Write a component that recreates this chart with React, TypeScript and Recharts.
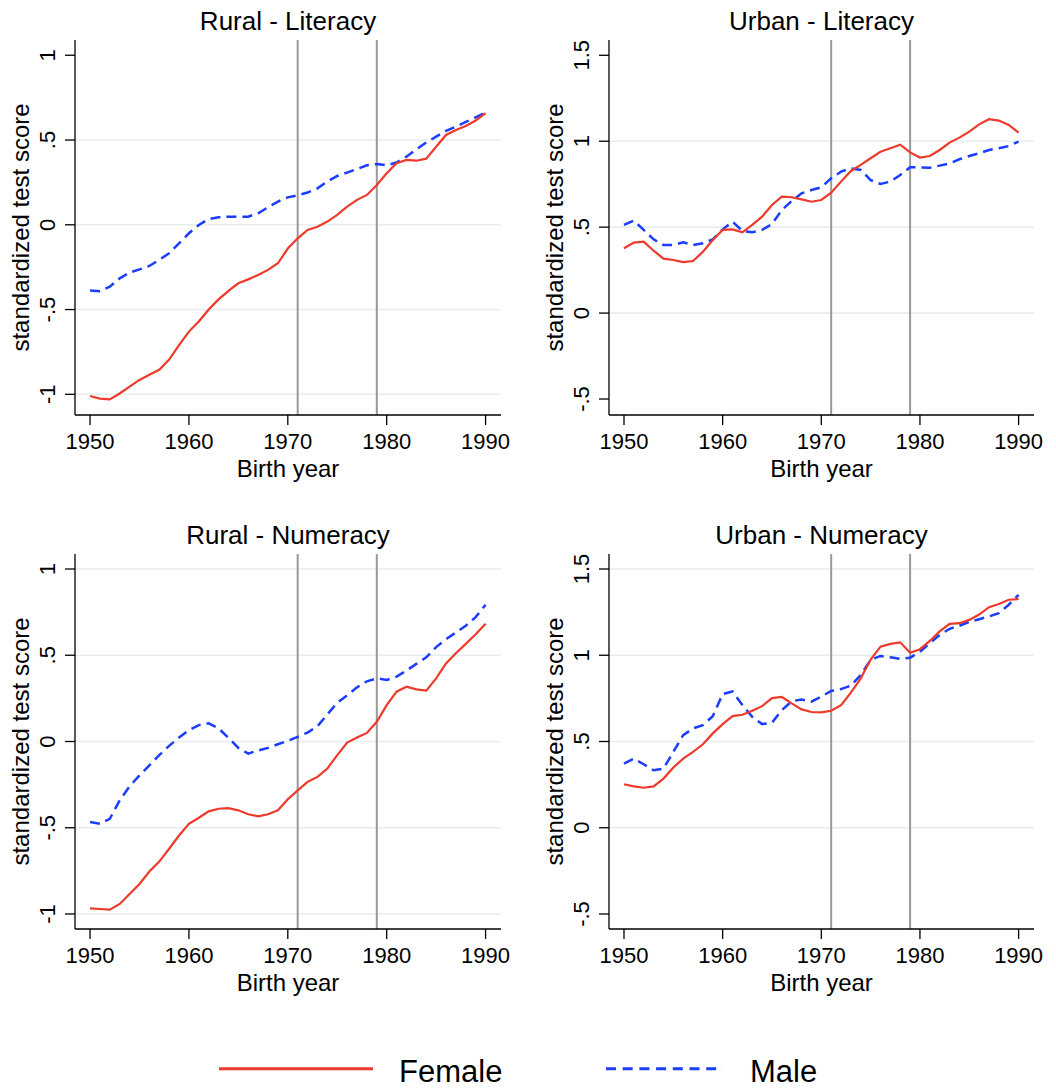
import React from "react";
import { LineChart, Line, XAxis, YAxis, ReferenceLine } from "recharts";

const FONT = '"Liberation Sans", Arial, Helvetica, sans-serif';
const RED = "#ee3a2a";
const BLUE = "#1a3dff";
const GRID = "#e6eef0";
const VLINE = "#999999";

const years = [
  1950, 1951, 1952, 1953, 1954, 1955, 1956, 1957, 1958, 1959,
  1960, 1961, 1962, 1963, 1964, 1965, 1966, 1967, 1968, 1969,
  1970, 1971, 1972, 1973, 1974, 1975, 1976, 1977, 1978, 1979,
  1980, 1981, 1982, 1983, 1984, 1985, 1986, 1987, 1988, 1989, 1990,
];

const ruralLitFemale = [
  -1.01, -1.025, -1.03, -0.995, -0.955, -0.915, -0.885, -0.855, -0.795, -0.71,
  -0.63, -0.57, -0.5, -0.44, -0.39, -0.345, -0.322, -0.296, -0.266, -0.227,
  -0.14, -0.08, -0.03, -0.012, 0.019, 0.058, 0.107, 0.147, 0.176, 0.235,
  0.304, 0.363, 0.383, 0.378, 0.39, 0.46, 0.53, 0.559, 0.583, 0.615, 0.658,
];
const ruralLitMale = [
  -0.388, -0.392, -0.365, -0.316, -0.282, -0.263, -0.243, -0.207, -0.168, -0.109,
  -0.05, -0.001, 0.034, 0.044, 0.048, 0.048, 0.048, 0.068, 0.103, 0.137,
  0.162, 0.174, 0.19, 0.215, 0.255, 0.288, 0.308, 0.329, 0.351, 0.359,
  0.351, 0.367, 0.402, 0.445, 0.485, 0.52, 0.554, 0.579, 0.607, 0.634, 0.662,
];
const urbanLitFemale = [
  0.377, 0.41, 0.416, 0.363, 0.317, 0.309, 0.297, 0.303, 0.357, 0.425,
  0.484, 0.487, 0.47, 0.513, 0.561, 0.629, 0.677, 0.674, 0.662, 0.648,
  0.658, 0.701, 0.765, 0.827, 0.862, 0.901, 0.939, 0.959, 0.98, 0.935,
  0.905, 0.914, 0.949, 0.992, 1.021, 1.056, 1.098, 1.128, 1.12, 1.095, 1.05,
];
const urbanLitMale = [
  0.513, 0.538, 0.484, 0.429, 0.396, 0.396, 0.412, 0.396, 0.406, 0.429,
  0.487, 0.532, 0.478, 0.47, 0.484, 0.518, 0.6, 0.652, 0.697, 0.716,
  0.732, 0.784, 0.823, 0.842, 0.833, 0.774, 0.751, 0.765, 0.804, 0.848,
  0.848, 0.846, 0.858, 0.871, 0.895, 0.914, 0.93, 0.949, 0.959, 0.972, 0.998,
];
const ruralNumFemale = [
  -0.967, -0.971, -0.975, -0.942, -0.884, -0.826, -0.754, -0.696, -0.622, -0.545,
  -0.477, -0.442, -0.405, -0.39, -0.386, -0.399, -0.422, -0.434, -0.422, -0.399,
  -0.335, -0.283, -0.234, -0.205, -0.157, -0.079, -0.006, 0.023, 0.05, 0.114,
  0.211, 0.289, 0.318, 0.302, 0.295, 0.366, 0.453, 0.512, 0.566, 0.622, 0.682,
];
const ruralNumMale = [
  -0.467, -0.477, -0.448, -0.341, -0.26, -0.196, -0.138, -0.079, -0.025, 0.023,
  0.066, 0.095, 0.105, 0.076, 0.021, -0.037, -0.07, -0.052, -0.037, -0.016,
  0.004, 0.027, 0.052, 0.089, 0.157, 0.225, 0.267, 0.314, 0.349, 0.366,
  0.357, 0.376, 0.411, 0.45, 0.488, 0.547, 0.593, 0.632, 0.671, 0.721, 0.793,
];
const urbanNumFemale = [
  0.252, 0.24, 0.232, 0.24, 0.285, 0.349, 0.401, 0.44, 0.484, 0.547,
  0.601, 0.647, 0.655, 0.678, 0.705, 0.752, 0.758, 0.721, 0.686, 0.671,
  0.669, 0.678, 0.711, 0.783, 0.866, 0.975, 1.05, 1.066, 1.075, 1.015,
  1.035, 1.083, 1.138, 1.182, 1.186, 1.205, 1.236, 1.279, 1.297, 1.322, 1.326,
];
const urbanNumMale = [
  0.372, 0.401, 0.368, 0.333, 0.343, 0.44, 0.537, 0.576, 0.595, 0.647,
  0.775, 0.79, 0.711, 0.643, 0.601, 0.609, 0.682, 0.733, 0.744, 0.731,
  0.76, 0.793, 0.804, 0.824, 0.886, 0.973, 0.996, 0.988, 0.979, 0.986,
  1.021, 1.07, 1.118, 1.153, 1.171, 1.194, 1.209, 1.225, 1.244, 1.293, 1.35,
];

const yearTicks = [1950, 1960, 1970, 1980, 1990];
const reformYears = [1971, 1979];
const ruralTicks = [-1, -0.5, 0, 0.5, 1];
const urbanTicks = [-0.5, 0, 0.5, 1, 1.5];
const ruralLitGrid = [-1, -0.5, 0, 0.5];
const urbanLitGrid = [0, 0.5, 1];
const ruralNumGrid = [-1, -0.5, 0, 0.5, 1];
const urbanNumGrid = [0, 0.5, 1, 1.5];

const titles = ["Rural - Literacy", "Urban - Literacy", "Rural - Numeracy", "Urban - Numeracy"];
const yTitle = "standardized test score";
const xTitle = "Birth year";
const legendLabels = ["Female", "Male"];

const build = (f: number[], m: number[]) =>
  years.map((year, i) => ({ year, female: f[i], male: m[i] }));

function fmt(v: number): string {
  if (v === 0) return "0";
  let s = String(Math.abs(v));
  if (s.startsWith("0.")) s = s.slice(1);
  return (v < 0 ? "-" : "") + s;
}

const YTick = (props: any) => {
  const { x, y, payload } = props;
  return (
    <text
      x={x}
      y={y}
      transform={`rotate(-90 ${x} ${y})`}
      textAnchor="middle"
      fontSize={22}
      fill="#000"
      fontFamily={FONT}
    >
      {fmt(payload.value)}
    </text>
  );
};

const XTick = (props: any) => {
  const { x, y, payload } = props;
  return (
    <text x={x} y={y + 22} textAnchor="middle" fontSize={22} fill="#000" fontFamily={FONT}>
      {payload.value}
    </text>
  );
};

const YTitleLabel = (props: any) => {
  const vb = props.viewBox || { x: 0, y: 40, width: 75, height: 375 };
  const cx = vb.x + vb.width - 46;
  const cy = vb.y + vb.height / 2;
  return (
    <text
      x={cx}
      y={cy}
      transform={`rotate(-90 ${cx} ${cy})`}
      textAnchor="middle"
      fontSize={24}
      fill="#000"
      fontFamily={FONT}
    >
      {props.text}
    </text>
  );
};

const XTitleLabel = (props: any) => {
  const vb = props.viewBox || { x: 75, y: 415, width: 426, height: 60 };
  return (
    <text
      x={vb.x + vb.width / 2}
      y={vb.y + 61.5}
      textAnchor="middle"
      fontSize={24}
      fill="#000"
      fontFamily={FONT}
    >
      {props.text}
    </text>
  );
};

type PanelProps = {
  left: number;
  top: number;
  yAxisWidth: number;
  rightMargin: number;
  title: string;
  data: { year: number; female: number; male: number }[];
  yDomain: [number, number];
  yTicks: number[];
  grid: number[];
};

const W = 528;
const H = 500;
const M_TOP = 40;
const X_AXIS_H = 60;
const M_BOTTOM = 25;

function Panel(p: PanelProps) {
  const plotW = W - p.yAxisWidth - p.rightMargin;
  return (
    <div style={{ position: "absolute", left: p.left, top: p.top, width: W, height: H }}>
      <div
        style={{
          position: "absolute",
          left: p.yAxisWidth,
          width: plotW,
          top: 8,
          height: 26,
          lineHeight: "26px",
          fontSize: 26,
          fontFamily: FONT,
          textAlign: "center",
          color: "#000",
          whiteSpace: "nowrap",
        }}
      >
        {p.title}
      </div>
      <LineChart
        width={W}
        height={H}
        data={p.data}
        margin={{ top: M_TOP, right: p.rightMargin, bottom: M_BOTTOM, left: 0 }}
      >
        <XAxis
          dataKey="year"
          type="number"
          domain={[1948.48, 1991.56]}
          allowDataOverflow
          ticks={yearTicks}
          height={X_AXIS_H}
          tickSize={10}
          tickMargin={2}
          axisLine={{ stroke: "#000", strokeWidth: 1.3 }}
          tickLine={{ stroke: "#000", strokeWidth: 1.3 }}
          tick={<XTick />}
          label={<XTitleLabel text={xTitle} />}
        />
        <YAxis
          type="number"
          domain={p.yDomain}
          allowDataOverflow
          ticks={p.yTicks}
          width={p.yAxisWidth}
          tickSize={10}
          tickMargin={10}
          axisLine={{ stroke: "#000", strokeWidth: 1.3 }}
          tickLine={{ stroke: "#000", strokeWidth: 1.3 }}
          tick={<YTick />}
          label={<YTitleLabel text={yTitle} />}
        />
        {p.grid.map((g) => (
          <ReferenceLine key={"g" + g} y={g} stroke={GRID} strokeWidth={1.6} />
        ))}
        {reformYears.map((yr) => (
          <ReferenceLine key={"v" + yr} x={yr} stroke={VLINE} strokeWidth={2} />
        ))}
        <Line
          type="linear"
          dataKey="male"
          stroke={BLUE}
          strokeWidth={2.5}
          strokeDasharray="10 6"
          dot={false}
          isAnimationActive={false}
        />
        <Line
          type="linear"
          dataKey="female"
          stroke={RED}
          strokeWidth={2.2}
          dot={false}
          isAnimationActive={false}
        />
      </LineChart>
    </div>
  );
}

function LegendBox() {
  return (
    <svg
      width={1056}
      height={48}
      style={{ position: "absolute", left: 0, top: 1040 }}
    >
      <line x1={219} x2={373} y1={28.7} y2={28.7} stroke={RED} strokeWidth={3} />
      <text x={399} y={41.7} fontSize={31} fontFamily={FONT} fill="#000">
        {legendLabels[0]}
      </text>
      <line
        x1={606}
        x2={723}
        y1={28.7}
        y2={28.7}
        stroke={BLUE}
        strokeWidth={3}
        strokeDasharray="10 6.7"
      />
      <text x={750} y={41.7} fontSize={31} fontFamily={FONT} fill="#000">
        {legendLabels[1]}
      </text>
    </svg>
  );
}

export default function App() {
  return (
    <div
      style={{
        position: "absolute",
        left: 0,
        top: 0,
        width: 1056,
        height: 1088,
        background: "#fff",
        overflow: "hidden",
      }}
    >
      <Panel
        left={0}
        top={0}
        yAxisWidth={75}
        rightMargin={27}
        title={titles[0]}
        data={build(ruralLitFemale, ruralLitMale)}
        yDomain={[-1.122, 1.09]}
        yTicks={ruralTicks}
        grid={ruralLitGrid}
      />
      <Panel
        left={528}
        top={0}
        yAxisWidth={81}
        rightMargin={22}
        title={titles[1]}
        data={build(urbanLitFemale, urbanLitMale)}
        yDomain={[-0.593, 1.589]}
        yTicks={urbanTicks}
        grid={urbanLitGrid}
      />
      <Panel
        left={0}
        top={514}
        yAxisWidth={75}
        rightMargin={27}
        title={titles[2]}
        data={build(ruralNumFemale, ruralNumMale)}
        yDomain={[-1.087, 1.087]}
        yTicks={ruralTicks}
        grid={ruralNumGrid}
      />
      <Panel
        left={528}
        top={514}
        yAxisWidth={81}
        rightMargin={22}
        title={titles[3]}
        data={build(urbanNumFemale, urbanNumMale)}
        yDomain={[-0.587, 1.587]}
        yTicks={urbanTicks}
        grid={urbanNumGrid}
      />
      <LegendBox />
    </div>
  );
}
